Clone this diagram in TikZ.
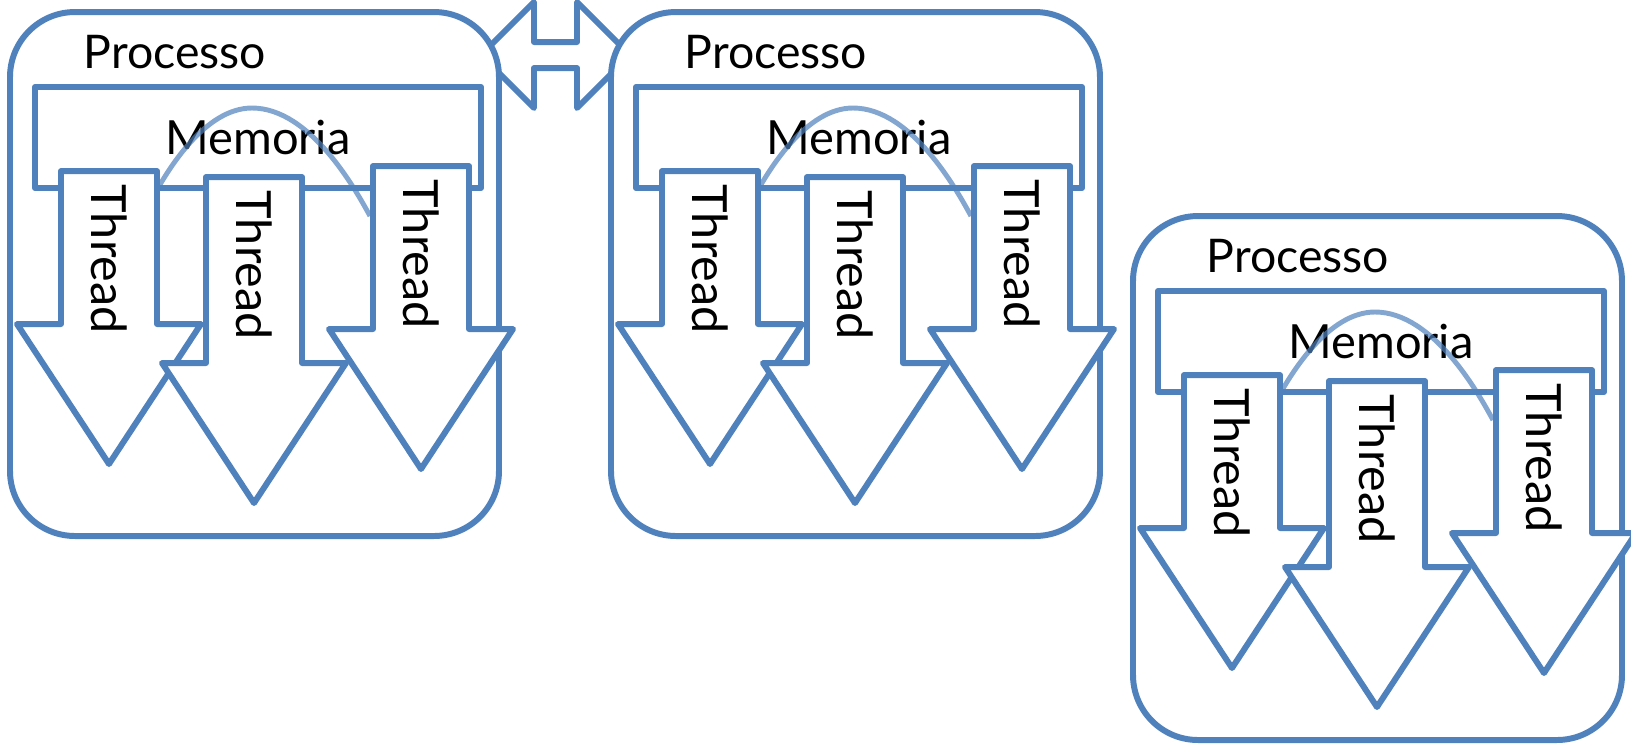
\documentclass[tikz,border=0pt]{standalone}
\usepackage{fontspec}
\setmainfont{Lato}
\definecolor{procblue}{RGB}{79,129,189}

\begin{document}
\begin{tikzpicture}[x=0.1mm,y=-0.1mm,line join=round,
    procbox/.style={draw=procblue,line width=1.7pt,fill=white,rounded corners=6.5mm,minimum width=48.9mm,minimum height=52.4mm,inner sep=0pt},
    membox/.style={draw=procblue,line width=1.7pt,fill=white,minimum width=44.6mm,minimum height=10.1mm,inner sep=0pt,font=\fontsize{13.4}{16}\selectfont},
    title/.style={anchor=base west,inner sep=0pt,font=\fontsize{13.2}{16}\selectfont},
    thread/.style={anchor=base west,rotate=-90,inner sep=0pt,font=\fontsize{13.8}{16}\selectfont},
    block/.style={draw=procblue,line width=1.7pt,fill=white},
    share/.style={draw=procblue,draw opacity=0.7,line width=1.4pt}]
    \useasboundingbox (0,0) rectangle (1631,743);

    % communication between the first two processes
    \draw[block] (481,55) -- (534,2) -- (534,42) -- (577,42) -- (577,2) -- (630,55)
        -- (577,108) -- (577,68) -- (534,68) -- (534,108) -- cycle;

    \foreach \dx/\dy/\p in {0/0/1, 601/0/2, 1123/204/3}{
        \begin{scope}[shift={(\dx,\dy)}]
            \node[procbox] (proc\p) at (254.5,274) {};
            \node[membox] (mem\p) at (258,137.5) {Memoria};
            \node[title] (name\p) at (83,68.5) {Processo};
            % shared memory seen by the threads
            \draw[share] (158,188) parabola bend (252,108) (370,216);
            \foreach \cx/\ytop/\ybase/\nm in {109/171/324/a, 254/177/363/b, 421/166/329/c}{
                \draw[block] ({\cx-48},\ytop) -- ({\cx+48},\ytop) -- ({\cx+48},\ybase) -- ({\cx+92},\ybase)
                    -- (\cx,{\ybase+140}) -- ({\cx-92},\ybase) -- ({\cx-48},\ybase) -- cycle;
                \node[thread] (thr\p\nm) at ({\cx-18},{\ytop+13}) {Thread};
            }
        \end{scope}
    }
\end{tikzpicture}
\end{document}
